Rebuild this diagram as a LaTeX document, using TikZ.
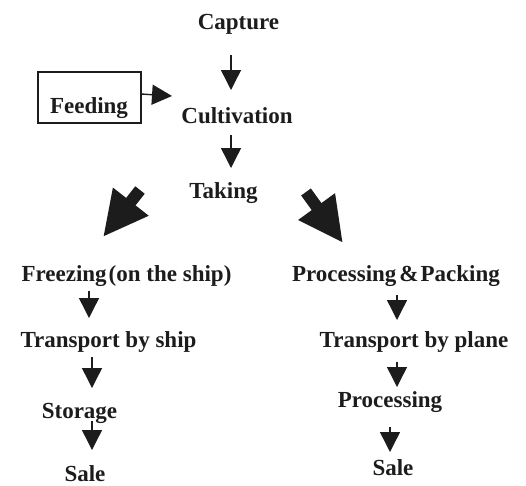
\documentclass[tikz,border=0pt]{standalone}
\usepackage{fontspec}
\setmainfont{Liberation Serif}
\usetikzlibrary{arrows.meta}
\definecolor{ink}{HTML}{1C1C1C}
\tikzset{
  lbl/.style={anchor=base, inner sep=0pt, font=\fontsize{23}{26}\selectfont\bfseries, text=ink},
  smallarrow/.style={draw=ink, line width=1.4pt, -{Triangle[width=20pt,length=20pt]}, fill=ink},
  bigarrow/.style={draw=ink, line width=12pt, -{Triangle[width=42pt,length=45pt]}, fill=ink},
  feedbox/.style={draw=ink, line width=1.4pt, minimum width=103pt, minimum height=51pt, inner sep=0pt}
}
\begin{document}
\begin{tikzpicture}[x=1pt, y=-1pt]
\useasboundingbox (0,0) rectangle (526,485);

% nodes
\node[lbl] (capture) at (238.5,29) {Capture};
\node[feedbox] (fbox) at (89.5,97.5) {};
\node[lbl] (feeding) at (89,113) {Feeding};
\node[lbl] (cult) at (237,123) {Cultivation};
\node[lbl] (taking) at (223.5,198) {Taking};
\node[lbl] (freez) at (126.5,281) {Freezing\kern2pt(on the ship)};
\node[lbl] (pp) at (396,281) {Processing\kern3pt\&\kern2pt Packing};
\node[lbl] (tship) at (108.5,347) {Transport by ship};
\node[lbl] (tplane) at (414,347) {Transport by plane};
\node[lbl] (storage) at (79.5,418) {Storage};
\node[lbl] (proc) at (390,407) {Processing};
\node[lbl] (saleL) at (85,481) {Sale};
\node[lbl] (saleR) at (393,475) {Sale};

% arrow end points
\coordinate (a1s) at (231,55);   \coordinate (a1e) at (231,90);
\coordinate (a2s) at (231,135);  \coordinate (a2e) at (231,168);
\coordinate (fs) at (141,94);    \coordinate (fe) at (172,96);
\coordinate (bLs) at (140,190);  \coordinate (bLe) at (103,237);
\coordinate (bRs) at (306,192);  \coordinate (bRe) at (343,243);
\coordinate (l1s) at (89,291);   \coordinate (l1e) at (89,318);
\coordinate (l2s) at (92,357);   \coordinate (l2e) at (92,388);
\coordinate (l3s) at (92,421);   \coordinate (l3e) at (92,450);
\coordinate (r1s) at (397,295);  \coordinate (r1e) at (397,320);
\coordinate (r2s) at (397,362);  \coordinate (r2e) at (397,387);
\coordinate (r3s) at (390,427);  \coordinate (r3e) at (390,452);

% connectors
\draw[smallarrow] (a1s) -- (a1e);
\draw[smallarrow] (a2s) -- (a2e);
\draw[smallarrow] (fs) -- (fe);
\draw[bigarrow] (bLs) -- (bLe);
\draw[bigarrow] (bRs) -- (bRe);
\draw[smallarrow] (l1s) -- (l1e);
\draw[smallarrow] (l2s) -- (l2e);
\draw[smallarrow] (l3s) -- (l3e);
\draw[smallarrow] (r1s) -- (r1e);
\draw[smallarrow] (r2s) -- (r2e);
\draw[smallarrow] (r3s) -- (r3e);
\end{tikzpicture}
\end{document}
